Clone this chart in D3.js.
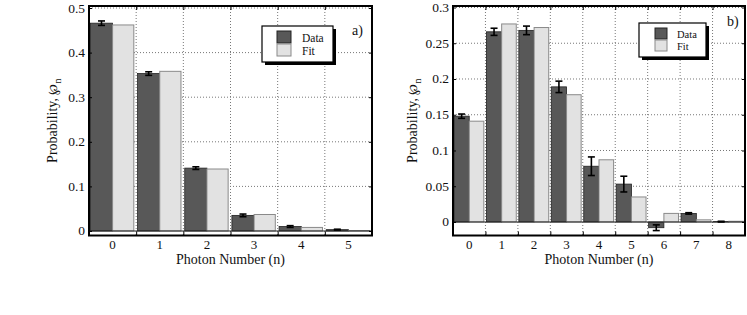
<!DOCTYPE html>
<html lang="en">
<head>
    <meta charset="UTF-8">
    <title>Photon Number Distributions</title>
    <script src="https://d3js.org/d3.v7.min.js"></script>
    <style>
        body { margin: 0; background: #fff; }
        text { font-family: "Liberation Serif", "Times New Roman", serif; fill: #111; }
    </style>
</head>
<body>
    <svg id="chart" width="747" height="315"></svg>

    <script>
        // Panel a)
        const photonA = [0, 1, 2, 3, 4, 5];
        const dataA = [0.466, 0.353, 0.141, 0.035, 0.010, 0.003];
        const fitA = [0.462, 0.358, 0.139, 0.037, 0.008, 0.001];
        const errA = [0.005, 0.004, 0.003, 0.003, 0.002, 0.001];
        const ticksA = [0, 0.1, 0.2, 0.3, 0.4, 0.5];

        // Panel b)
        const photonB = [0, 1, 2, 3, 4, 5, 6, 7, 8];
        const dataB = [0.148, 0.266, 0.268, 0.189, 0.078, 0.053, -0.008, 0.012, 0.0005];
        const fitB = [0.141, 0.277, 0.272, 0.178, 0.087, 0.035, 0.012, 0.003, 0.001];
        const errB = [0.003, 0.005, 0.006, 0.008, 0.013, 0.011, 0.004, 0.001, 0.0005];
        const ticksB = [0, 0.05, 0.1, 0.15, 0.2, 0.25, 0.3];

        const darkFill = '#585858';
        const lightFill = '#e2e2e2';

        const svg = d3.select('#chart');

        function drawPanel(cfg) {
            const g = svg.append('g');
            const n = cfg.cats.length;

            const x = d3.scaleLinear()
                .domain([-0.5, n - 0.5])
                .range([cfg.left, cfg.right]);
            const y = d3.scaleLinear()
                .domain(cfg.yDomain)
                .range([cfg.bottom, cfg.top]);

            // dotted grid
            const vGrid = d3.range(n - 1).map(i => i + 0.5);
            g.selectAll('.vgrid')
                .data(vGrid)
                .enter().append('line')
                .attr('x1', d => x(d)).attr('x2', d => x(d))
                .attr('y1', cfg.top).attr('y2', cfg.bottom)
                .attr('stroke', '#777').attr('stroke-width', 1)
                .attr('stroke-dasharray', '1,2');
            g.selectAll('.hgrid')
                .data(cfg.ticks.filter(t => t > 0 && t < cfg.yDomain[1] - 1e-6))
                .enter().append('line')
                .attr('x1', cfg.left).attr('x2', cfg.right)
                .attr('y1', d => y(d)).attr('y2', d => y(d))
                .attr('stroke', '#777').attr('stroke-width', 1)
                .attr('stroke-dasharray', '1,2');

            // bars
            const step = x(1) - x(0);
            g.selectAll('.bar-data')
                .data(cfg.data)
                .enter().append('rect')
                .attr('x', (d, i) => x(i) - step * 0.47)
                .attr('width', step * 0.47)
                .attr('y', d => y(Math.max(d, 0)))
                .attr('height', d => Math.abs(y(d) - y(0)))
                .attr('fill', darkFill)
                .attr('stroke', '#222').attr('stroke-width', 0.8);
            g.selectAll('.bar-fit')
                .data(cfg.fit)
                .enter().append('rect')
                .attr('x', (d, i) => x(i))
                .attr('width', step * 0.45)
                .attr('y', d => y(Math.max(d, 0)))
                .attr('height', d => Math.abs(y(d) - y(0)))
                .attr('fill', lightFill)
                .attr('stroke', '#8a8a8a').attr('stroke-width', 1);

            // baseline
            g.append('line')
                .attr('x1', cfg.left).attr('x2', cfg.right)
                .attr('y1', y(0)).attr('y2', y(0))
                .attr('stroke', '#222').attr('stroke-width', 1);

            // error bars
            const eb = g.selectAll('.err')
                .data(cfg.data.map((d, i) => ({ v: d, e: cfg.err[i], i: i })))
                .enter().append('g');
            const cx = d => x(d.i) - step * 0.235;
            eb.append('line')
                .attr('x1', cx).attr('x2', cx)
                .attr('y1', d => y(d.v - d.e)).attr('y2', d => y(d.v + d.e))
                .attr('stroke', '#000').attr('stroke-width', 1.6);
            eb.append('line')
                .attr('x1', d => cx(d) - 3.5).attr('x2', d => cx(d) + 3.5)
                .attr('y1', d => y(d.v - d.e)).attr('y2', d => y(d.v - d.e))
                .attr('stroke', '#000').attr('stroke-width', 1.6);
            eb.append('line')
                .attr('x1', d => cx(d) - 3.5).attr('x2', d => cx(d) + 3.5)
                .attr('y1', d => y(d.v + d.e)).attr('y2', d => y(d.v + d.e))
                .attr('stroke', '#000').attr('stroke-width', 1.6);

            // y axis ticks and labels
            const yAxis = g.append('g')
                .attr('transform', `translate(${cfg.left},0)`)
                .call(d3.axisRight(y).tickValues(cfg.ticks).tickSize(3).tickFormat(''));
            yAxis.select('.domain').remove();
            const yAxisR = g.append('g')
                .attr('transform', `translate(${cfg.right},0)`)
                .call(d3.axisLeft(y).tickValues(cfg.ticks).tickSize(3).tickFormat(''));
            yAxisR.select('.domain').remove();
            g.selectAll('.ylab')
                .data(cfg.ticks)
                .enter().append('text')
                .attr('x', cfg.left - 4)
                .attr('y', d => y(d) + 4.5)
                .attr('text-anchor', 'end')
                .attr('font-size', 13.5)
                .text(d => d3.format('~g')(d));

            // x ticks at category boundaries
            const xAxis = g.append('g')
                .attr('transform', `translate(0,${cfg.bottom})`)
                .call(d3.axisTop(x).tickValues(vGrid).tickSize(4).tickFormat(''));
            xAxis.select('.domain').remove();
            const xAxisT = g.append('g')
                .attr('transform', `translate(0,${cfg.top})`)
                .call(d3.axisBottom(x).tickValues(vGrid).tickSize(4).tickFormat(''));
            xAxisT.select('.domain').remove();
            g.selectAll('.xlab')
                .data(cfg.cats)
                .enter().append('text')
                .attr('x', (d, i) => x(i))
                .attr('y', cfg.bottom + 13.5)
                .attr('text-anchor', 'middle')
                .attr('font-size', 13)
                .text(d => d);

            // frame
            g.append('rect')
                .attr('x', cfg.left).attr('y', cfg.top)
                .attr('width', cfg.right - cfg.left)
                .attr('height', cfg.bottom - cfg.top)
                .attr('fill', 'none')
                .attr('stroke', '#000').attr('stroke-width', 2);

            // axis titles
            g.append('text')
                .attr('x', (cfg.left + cfg.right) / 2)
                .attr('y', 264)
                .attr('text-anchor', 'middle')
                .attr('font-size', 14)
                .text('Photon Number (n)');
            const yt = g.append('text')
                .attr('transform', `translate(${cfg.yLabelX},${(cfg.top + cfg.bottom) / 2}) rotate(-90)`)
                .attr('text-anchor', 'middle')
                .attr('font-size', 14);
            yt.append('tspan').text('Probability, ');
            yt.append('tspan').attr('font-family', 'DejaVu Serif').attr('font-size', 13).text('\u2118');
            yt.append('tspan').attr('dy', 4).attr('font-size', 10).text('n');

            // panel tag
            g.append('text')
                .attr('x', cfg.tagX).attr('y', cfg.tagY)
                .attr('font-size', 14)
                .text(cfg.tag);

            // legend
            const L = cfg.legend;
            g.append('rect')
                .attr('x', L.x + 3).attr('y', L.y + 3)
                .attr('width', L.w).attr('height', L.h)
                .attr('fill', '#000');
            g.append('rect')
                .attr('x', L.x).attr('y', L.y)
                .attr('width', L.w).attr('height', L.h)
                .attr('fill', '#fff').attr('stroke', '#000').attr('stroke-width', 1.2);
            const items = [
                { label: 'Data', fill: darkFill, stroke: '#222' },
                { label: 'Fit', fill: lightFill, stroke: '#8a8a8a' }
            ];
            items.forEach((it, i) => {
                g.append('rect')
                    .attr('x', L.x + L.sx).attr('y', L.y + L.sy + i * L.sh)
                    .attr('width', L.sw).attr('height', L.sh - 1)
                    .attr('fill', it.fill).attr('stroke', it.stroke).attr('stroke-width', 1);
                g.append('text')
                    .attr('x', L.x + L.tx).attr('y', L.y + L.sy + i * L.sh + L.sh - 2.5)
                    .attr('font-size', L.fs)
                    .text(it.label);
            });
        }

        drawPanel({
            cats: photonA, data: dataA, fit: fitA, err: errA, ticks: ticksA,
            left: 89, right: 372, top: 6, bottom: 235.5,
            yDomain: [-0.0101, 0.5045],
            yLabelX: 57, tag: 'a)', tagX: 352, tagY: 35,
            legend: { x: 262, y: 26, w: 71, h: 36, sx: 15, sy: 5, sw: 14, sh: 13, tx: 40, fs: 11.5 }
        });

        drawPanel({
            cats: photonB, data: dataB, fit: fitB, err: errB, ticks: ticksB,
            left: 453, right: 745, top: 6, bottom: 235.5,
            yDomain: [-0.0189, 0.3021],
            yLabelX: 417, tag: 'b)', tagX: 727, tagY: 26,
            legend: { x: 639, y: 23, w: 67, h: 34, sx: 16, sy: 5, sw: 12, sh: 12, tx: 38, fs: 10.5 }
        });
    </script>
</body>
</html>
